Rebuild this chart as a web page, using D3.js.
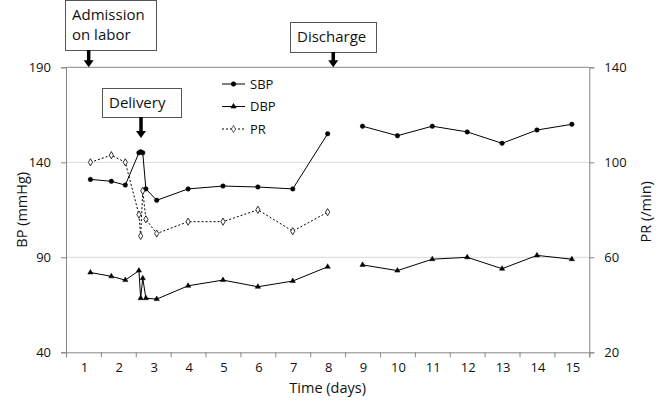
<!DOCTYPE html>
<meta charset="utf-8">
<style>
body { margin: 0; background: #fff; }
text { font-family: "Open Sans", sans-serif; fill: #111; }
.tick text { font-size: 13px; }
.axis-title { font-size: 14.5px; }
.note text { font-size: 15px; }
</style>
<svg width="661" height="403"></svg>
<script src="https://d3js.org/d3.v7.min.js"></script>
<script>

// time in days, null = gap
var times = [1.2, 1.8, 2.2, 2.59, 2.64, 2.7, 2.79, 3.1, 4, 5, 6, 7, 8, 8.5, 9, 10, 11, 12, 13, 14, 15];
var sbp   = [131, 130, 128, 145, 145.5, 145, 126, 120, 126, 127.5, 127, 126, 155, null, 159, 154, 159, 156, 150, 157, 160];
var dbp   = [82, 80, 78, 83, 68.5, 79, 68.5, 68, 75, 78, 74.5, 77.5, 85, null, 86, 83, 89, 90, 84, 91, 89];
var pr    = [100, 103, 100, 78, 69, 88, 76, 70, 75, 75, 80, 71, 79, null, null, null, null, null, null, null, null];

var dayLabels = [1, 2, 3, 4, 5, 6, 7, 8, 9, 10, 11, 12, 13, 14, 15];
var bpTicks = [40, 90, 140, 190];
var prTicks = [20, 60, 100, 140];

var notes = [
  {lines: ["Admission", "on labor"], day: 1.15, box: [65, 0, 91, 50]},
  {lines: ["Delivery"], day: 2.65, box: [102, 88, 79, 29], tip: 138},
  {lines: ["Discharge"], day: 8.16, box: [290, 22, 86, 30]}
];

var svg = d3.select("svg"),
    plotL = 66, plotR = 589.3, plotT = 67.3, plotB = 352.3;

var x = d3.scaleLinear().domain([0.5, 15.5]).range([plotL, plotR]);
var yBP = d3.scaleLinear().domain([40, 190]).range([plotB, plotT]);
var yPR = d3.scaleLinear().domain([20, 140]).range([plotB, plotT]);

// gridlines
svg.append("g").selectAll("line")
  .data([90, 140])
  .enter().append("line")
    .attr("x1", plotL).attr("x2", plotR)
    .attr("y1", yBP).attr("y2", yBP)
    .attr("stroke", "#d9d9d9");

svg.append("line")
    .attr("x1", plotL).attr("x2", plotR)
    .attr("y1", plotT).attr("y2", plotT)
    .attr("stroke", "#868686");

// axes
var xAxis = svg.append("g")
    .attr("transform", "translate(0," + plotB + ")")
    .call(d3.axisBottom(x).tickValues(d3.range(0.5, 15.6, 1)).tickSize(5).tickFormat(""));

svg.append("g").selectAll("text")
  .data(dayLabels)
  .enter().append("text")
    .style("font-size", "13px")
    .attr("x", function(d) { return x(d) + 1; })
    .attr("y", plotB + 20)
    .attr("text-anchor", "middle")
    .text(function(d) { return d; });

var yAxisL = svg.append("g")
    .attr("transform", "translate(" + plotL + ",0)")
    .call(d3.axisLeft(yBP).tickValues(bpTicks).tickSize(5).tickPadding(10));

var yAxisR = svg.append("g")
    .attr("transform", "translate(" + plotR + ",0)")
    .call(d3.axisRight(yPR).tickValues(prTicks).tickSize(5).tickPadding(10));

svg.selectAll(".domain, .tick line").attr("stroke", "#868686");
svg.selectAll(".tick text").attr("fill", "#111").style("font-family", "'Open Sans', sans-serif");

svg.append("text")
    .attr("class", "axis-title")
    .attr("transform", "translate(22," + (plotT + plotB) / 2 + ") rotate(-90)")
    .attr("text-anchor", "middle")
    .attr("dy", "0.35em")
    .text("BP (mmHg)");

svg.append("text")
    .attr("class", "axis-title")
    .attr("transform", "translate(646," + ((plotT + plotB) / 2 + 2) + ") rotate(-90)")
    .attr("text-anchor", "middle")
    .attr("dy", "0.35em")
    .text("PR (/min)");

svg.append("text")
    .attr("class", "axis-title")
    .attr("x", (plotL + plotR) / 2)
    .attr("y", 393)
    .attr("text-anchor", "middle")
    .text("Time (days)");

// series
function series(vals) {
  return times.map(function(t, i) { return {t: t, v: vals[i]}; });
}

function drawLine(vals, y, dash) {
  var line = d3.line()
      .defined(function(d) { return d.v != null; })
      .x(function(d) { return x(d.t); })
      .y(function(d) { return y(d.v); });
  svg.append("path")
      .datum(series(vals))
      .attr("d", line)
      .attr("fill", "none")
      .attr("stroke", "#000")
      .attr("stroke-width", 1)
      .attr("stroke-dasharray", dash || null);
}

drawLine(sbp, yBP);
drawLine(dbp, yBP);
drawLine(pr, yPR, "2,2");

var circle = d3.symbol().type(d3.symbolCircle).size(16);
var tri = d3.symbol().type(d3.symbolTriangle).size(12);
var diamond = d3.symbol().type(d3.symbolDiamond).size(15);

function drawMarks(vals, y, sym, fill) {
  svg.append("g").selectAll("path")
    .data(series(vals).filter(function(d) { return d.v != null; }))
    .enter().append("path")
      .attr("d", sym)
      .attr("transform", function(d) { return "translate(" + x(d.t) + "," + y(d.v) + ")"; })
      .attr("fill", fill)
      .attr("stroke", "#000")
      .attr("stroke-width", fill === "#fff" ? 0.8 : 0.5);
}

drawMarks(sbp, yBP, circle, "#000");
drawMarks(dbp, yBP, tri, "#000");
drawMarks(pr, yPR, diamond, "#fff");

// legend
var legend = [
  {name: "SBP", sym: circle, fill: "#000", dash: null, y: 84},
  {name: "DBP", sym: tri, fill: "#000", dash: null, y: 106.5},
  {name: "PR", sym: diamond, fill: "#fff", dash: "2,2", y: 129}
];
var lg = svg.append("g").selectAll("g").data(legend).enter().append("g")
    .attr("transform", function(d) { return "translate(0," + d.y + ")"; });
lg.append("line")
    .attr("x1", 222).attr("x2", 245)
    .attr("stroke", "#000")
    .attr("stroke-dasharray", function(d) { return d.dash; });
lg.append("path")
    .attr("d", function(d) { return d.sym(); })
    .attr("transform", "translate(233.5,0)")
    .attr("fill", function(d) { return d.fill; })
    .attr("stroke", "#000")
    .attr("stroke-width", 0.6);
lg.append("text")
    .attr("x", 250)
    .attr("dy", "0.35em")
    .style("font-size", "13px")
    .text(function(d) { return d.name; });

// annotations
var ng = svg.append("g").attr("class", "note").selectAll("g").data(notes).enter().append("g");
ng.append("rect")
    .attr("x", function(d) { return d.box[0] + 0.5; })
    .attr("y", function(d) { return d.box[1] + 0.5; })
    .attr("width", function(d) { return d.box[2]; })
    .attr("height", function(d) { return d.box[3]; })
    .attr("fill", "#fff")
    .attr("stroke", "#555");
ng.each(function(d) {
  var g = d3.select(this);
  var n = d.lines.length;
  d.lines.forEach(function(s, i) {
    g.append("text")
        .attr("x", d.box[0] + 7)
        .attr("y", d.box[1] + d.box[3] / 2 + (i - (n - 1) / 2) * 20)
        .attr("dy", "0.35em")
        .text(s);
  });
  var ax = x(d.day), y0 = d.box[1] + d.box[3], y1 = d.tip || plotT;
  g.append("line")
      .attr("x1", ax).attr("x2", ax)
      .attr("y1", y0).attr("y2", y1 - 6)
      .attr("stroke", "#000")
      .attr("stroke-width", 3.5);
  g.append("path")
      .attr("d", "M" + (ax - 5) + "," + (y1 - 7) + "L" + (ax + 5) + "," + (y1 - 7) + "L" + ax + "," + y1 + "Z")
      .attr("fill", "#000");
});

</script>
